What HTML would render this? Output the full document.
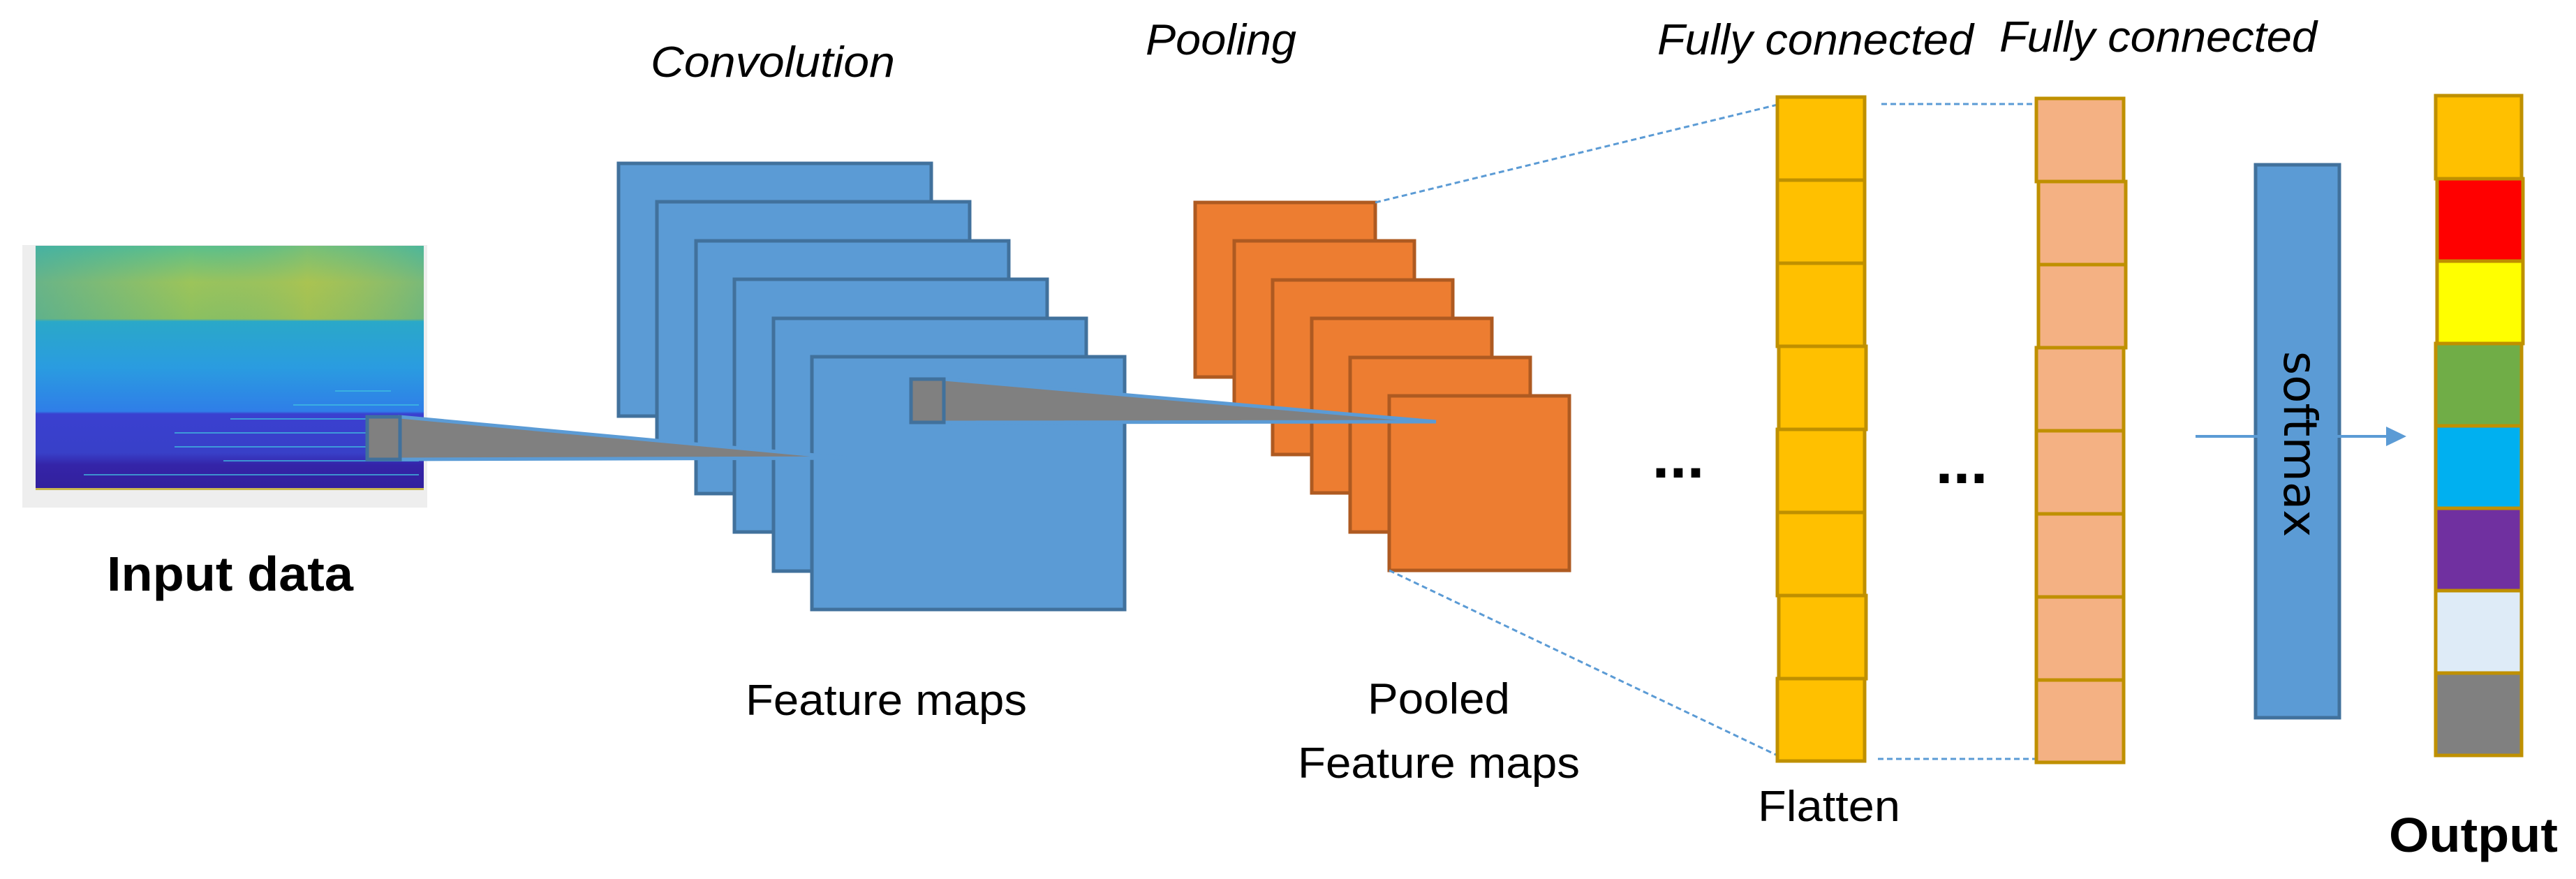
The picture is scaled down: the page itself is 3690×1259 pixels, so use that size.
<!DOCTYPE html>
<html><head><meta charset="utf-8"><style>html,body{margin:0;padding:0;background:#fff}svg{display:block}</style></head>
<body>
<svg width="3690" height="1259" viewBox="0 0 3690 1259" xmlns="http://www.w3.org/2000/svg">
<defs>
<linearGradient id="sp" x1="0" y1="0" x2="0" y2="1">
<stop offset="0" stop-color="#5cc08a"/>
<stop offset="0.15" stop-color="#9cc45a"/>
<stop offset="0.3" stop-color="#8cc060"/>
<stop offset="0.31" stop-color="#2aa8c8"/>
<stop offset="0.5" stop-color="#2a9ce0"/>
<stop offset="0.68" stop-color="#2f7ee8"/>
<stop offset="0.69" stop-color="#3a40d0"/>
<stop offset="0.85" stop-color="#3840c8"/>
<stop offset="0.9" stop-color="#3424a8"/>
<stop offset="1" stop-color="#32209c"/>
</linearGradient>
<linearGradient id="sph" x1="0" y1="0" x2="1" y2="0">
<stop offset="0" stop-color="#2aa0c0" stop-opacity="0.45"/>
<stop offset="0.4" stop-color="#2aa0c0" stop-opacity="0"/>
<stop offset="0.7" stop-color="#e0c030" stop-opacity="0.2"/>
<stop offset="1" stop-color="#2aa0c0" stop-opacity="0.3"/>
</linearGradient>
</defs>
<!-- spectrogram -->
<rect x="32" y="351" width="580" height="376" fill="#eeeeee"/>
<rect x="51" y="352" width="556" height="349" fill="url(#sp)"/>
<rect x="51" y="352" width="556" height="107" fill="url(#sph)"/>
<rect x="51" y="699" width="556" height="3" fill="#c8b850"/>
<g stroke="#40c0e0" stroke-width="2" fill="none" opacity="0.7">
<path d="M250 620 H600 M250 640 H600 M320 660 H600 M120 680 H600 M330 600 H600 M420 580 H600 M480 560 H560"/>
</g>
<!-- blue squares -->
<g fill="#5b9bd5" stroke="#41719c" stroke-width="5">
<rect x="886" y="234" width="448" height="362"/>
<rect x="941" y="289" width="448" height="362"/>
<rect x="997" y="345" width="448" height="362"/>
<rect x="1052" y="400" width="448" height="362"/>
<rect x="1108" y="456" width="448" height="362"/>
<rect x="1163" y="511" width="448" height="362"/>
</g>
<!-- orange squares -->
<g fill="#ed7d31" stroke="#ae5a21" stroke-width="5">
<rect x="1712" y="290" width="258" height="250"/>
<rect x="1768" y="345" width="258" height="250"/>
<rect x="1823" y="401" width="258" height="250"/>
<rect x="1879" y="456" width="258" height="250"/>
<rect x="1934" y="512" width="258" height="250"/>
<rect x="1990" y="567" width="258" height="250"/>
</g>
<!-- gray zoom triangle 1 -->
<polygon points="573,597 1212,656 573,658" fill="#808080" stroke="#5b9bd5" stroke-width="5"/>
<rect x="526" y="597" width="47" height="61" fill="#808080" stroke="#41719c" stroke-width="5"/>
<!-- gray triangle 2 -->
<polygon points="1352,543 2057,604 1352,605" fill="#808080" stroke="#5b9bd5" stroke-width="5"/>
<rect x="1305" y="543" width="47" height="62" fill="#808080" stroke="#41719c" stroke-width="5"/>
<!-- dashed lines -->
<g stroke="#5b9bd5" stroke-width="3" stroke-dasharray="8,5" fill="none">
<line x1="1970" y1="290" x2="2546" y2="150"/>
<line x1="1990" y1="817" x2="2546" y2="1082"/>
<line x1="2695" y1="149" x2="2917" y2="149"/>
<line x1="2690" y1="1087" x2="2917" y2="1087"/>
</g>
<!-- flatten column -->
<g fill="#ffc000" stroke="#bf9000" stroke-width="5">
<rect x="2546" y="139" width="125" height="119"/>
<rect x="2546" y="258" width="125" height="119"/>
<rect x="2546" y="377" width="125" height="119"/>
<rect x="2548" y="496" width="125" height="119"/>
<rect x="2546" y="615" width="125" height="119"/>
<rect x="2546" y="734" width="125" height="119"/>
<rect x="2548" y="853" width="125" height="119"/>
<rect x="2546" y="972" width="125" height="118"/>
</g>
<!-- FC2 column -->
<g fill="#f4b183" stroke="#bf9000" stroke-width="5">
<rect x="2917" y="141" width="125" height="119"/>
<rect x="2920" y="260" width="125" height="119"/>
<rect x="2920" y="379" width="125" height="119"/>
<rect x="2917" y="498" width="125" height="119"/>
<rect x="2917" y="617" width="125" height="119"/>
<rect x="2917" y="736" width="125" height="119"/>
<rect x="2917" y="855" width="125" height="119"/>
<rect x="2917" y="974" width="125" height="118"/>
</g>
<!-- softmax -->
<rect x="3231" y="236" width="120" height="792" fill="#5b9bd5" stroke="#41719c" stroke-width="5"/>
<line x1="3145" y1="625" x2="3425" y2="625" stroke="#5b9bd5" stroke-width="4"/>
<polygon points="3447,625 3418,611 3418,639" fill="#5b9bd5"/>
<text x="0" y="0" transform="translate(3272,636) rotate(90)" text-anchor="middle" font-family="DejaVu Sans, sans-serif" font-size="66" fill="#000">softmax</text>
<!-- output column -->
<g stroke="#bf9000" stroke-width="5">
<rect x="3489" y="137" width="123" height="119" fill="#ffc000"/>
<rect x="3491" y="256" width="123" height="118" fill="#ff0000"/>
<rect x="3491" y="374" width="123" height="118" fill="#ffff00"/>
<rect x="3489" y="492" width="123" height="118" fill="#70ad47"/>
<rect x="3489" y="610" width="123" height="118" fill="#00b0f0"/>
<rect x="3489" y="728" width="123" height="118" fill="#7030a0"/>
<rect x="3489" y="846" width="123" height="118" fill="#deebf7"/>
<rect x="3489" y="964" width="123" height="118" fill="#808080"/>
</g>
<!-- dots -->
<text x="2404" y="684" text-anchor="middle" font-family="Liberation Sans, sans-serif" font-weight="bold" font-size="90">...</text>
<text x="2810" y="692" text-anchor="middle" font-family="Liberation Sans, sans-serif" font-weight="bold" font-size="90">...</text>
<!-- labels -->
<g font-family="Liberation Sans, sans-serif" fill="#000">
<text x="932" y="110" font-style="italic" font-size="62" textLength="350" lengthAdjust="spacingAndGlyphs">Convolution</text>
<text x="1641" y="78" font-style="italic" font-size="62" textLength="216" lengthAdjust="spacingAndGlyphs">Pooling</text>
<text x="2374" y="78" font-style="italic" font-size="62" textLength="453" lengthAdjust="spacingAndGlyphs">Fully connected</text>
<text x="2864" y="74" font-style="italic" font-size="62" textLength="455" lengthAdjust="spacingAndGlyphs">Fully connected</text>
<text x="153" y="846" font-weight="bold" font-size="70" textLength="353" lengthAdjust="spacingAndGlyphs">Input data</text>
<text x="1068" y="1024" font-size="62" textLength="403" lengthAdjust="spacingAndGlyphs">Feature maps</text>
<text x="1959" y="1022" font-size="62" textLength="204" lengthAdjust="spacingAndGlyphs">Pooled</text>
<text x="1859" y="1114" font-size="62" textLength="404" lengthAdjust="spacingAndGlyphs">Feature maps</text>
<text x="2518" y="1176" font-size="62" textLength="204" lengthAdjust="spacingAndGlyphs">Flatten</text>
<text x="3422" y="1220" font-weight="bold" font-size="70" textLength="242" lengthAdjust="spacingAndGlyphs">Output</text>
</g>
</svg>
</body></html>
